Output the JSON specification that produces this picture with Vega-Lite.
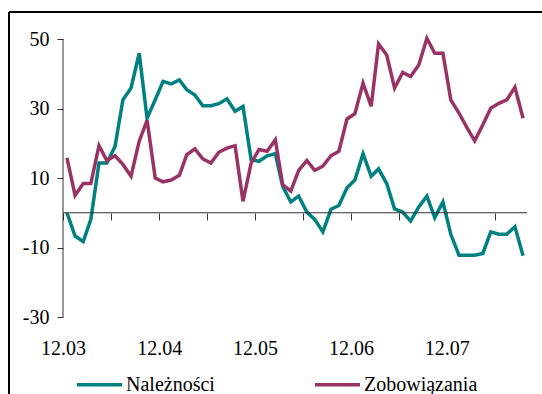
{
  "$schema": "https://vega.github.io/schema/vega-lite/v6.json",
  "width": 464,
  "height": 278,
  "autosize": {"type": "none"},
  "padding": {"left": 63, "top": 39, "right": 15, "bottom": 77},
  "background": "white",
  "config": {"view": {"stroke": null}, "font": "Liberation Serif, Times New Roman, Times, serif"},
  "layer": [
    {
      "data": {
        "values": [
          {"date": "2003-12-01", "Należności": 0, "Zobowiązania": 15.8},
          {"date": "2004-01-01", "Należności": -6.7, "Zobowiązania": 5.0},
          {"date": "2004-02-01", "Należności": -8.3, "Zobowiązania": 8.4},
          {"date": "2004-03-01", "Należności": -1.9, "Zobowiązania": 8.4},
          {"date": "2004-04-01", "Należności": 14.3, "Zobowiązania": 19.3},
          {"date": "2004-05-01", "Należności": 14.3, "Zobowiązania": 15.0},
          {"date": "2004-06-01", "Należności": 19.1, "Zobowiązania": 16.4},
          {"date": "2004-07-01", "Należności": 32.5, "Zobowiązania": 13.9},
          {"date": "2004-08-01", "Należności": 35.9, "Zobowiązania": 10.5},
          {"date": "2004-09-01", "Należności": 45.9, "Zobowiązania": 20.6},
          {"date": "2004-10-01", "Należności": 27.2, "Zobowiązania": 26.6},
          {"date": "2004-11-01", "Należności": 32.5, "Zobowiązania": 10.0},
          {"date": "2004-12-01", "Należności": 37.8, "Zobowiązania": 8.9},
          {"date": "2005-01-01", "Należności": 37.1, "Zobowiązania": 9.4},
          {"date": "2005-02-01", "Należności": 38.2, "Zobowiązania": 10.8},
          {"date": "2005-03-01", "Należności": 35.4, "Zobowiązania": 16.7},
          {"date": "2005-04-01", "Należności": 33.9, "Zobowiązania": 18.4},
          {"date": "2005-05-01", "Należności": 30.8, "Zobowiązania": 15.5},
          {"date": "2005-06-01", "Należności": 30.8, "Zobowiązania": 14.3},
          {"date": "2005-07-01", "Należności": 31.4, "Zobowiązania": 17.4},
          {"date": "2005-08-01", "Należności": 32.8, "Zobowiązania": 18.6},
          {"date": "2005-09-01", "Należności": 29.2, "Zobowiązania": 19.3},
          {"date": "2005-10-01", "Należności": 30.6, "Zobowiązania": 3.3},
          {"date": "2005-11-01", "Należności": 15.3, "Zobowiązania": 14.3},
          {"date": "2005-12-01", "Należności": 14.8, "Zobowiązania": 18.2},
          {"date": "2006-01-01", "Należności": 16.4, "Zobowiązania": 17.7},
          {"date": "2006-02-01", "Należności": 17.0, "Zobowiązania": 21.0},
          {"date": "2006-03-01", "Należności": 7.6, "Zobowiązania": 8.1},
          {"date": "2006-04-01", "Należności": 3.1, "Zobowiązania": 6.2},
          {"date": "2006-05-01", "Należności": 4.8, "Zobowiązania": 12.2},
          {"date": "2006-06-01", "Należności": 0.2, "Zobowiązania": 15.0},
          {"date": "2006-07-01", "Należności": -1.9, "Zobowiązania": 12.2},
          {"date": "2006-08-01", "Należności": -5.5, "Zobowiązania": 13.4},
          {"date": "2006-09-01", "Należności": 1.0, "Zobowiązania": 16.4},
          {"date": "2006-10-01", "Należności": 2.1, "Zobowiązania": 17.7},
          {"date": "2006-11-01", "Należności": 7.2, "Zobowiązania": 27.0},
          {"date": "2006-12-01", "Należności": 9.4, "Zobowiązania": 28.5},
          {"date": "2007-01-01", "Należności": 17.0, "Zobowiązania": 37.3},
          {"date": "2007-02-01", "Należności": 10.5, "Zobowiązania": 30.6},
          {"date": "2007-03-01", "Należności": 12.6, "Zobowiązania": 48.6},
          {"date": "2007-04-01", "Należności": 8.4, "Zobowiązania": 45.4},
          {"date": "2007-05-01", "Należności": 1.1, "Zobowiązania": 35.9},
          {"date": "2007-06-01", "Należności": 0.2, "Zobowiązania": 40.4},
          {"date": "2007-07-01", "Należności": -2.4, "Zobowiązania": 39.2},
          {"date": "2007-08-01", "Należności": 1.7, "Zobowiązania": 42.5},
          {"date": "2007-09-01", "Należności": 4.8, "Zobowiązania": 50.2},
          {"date": "2007-10-01", "Należności": -1.4, "Zobowiązania": 45.9},
          {"date": "2007-11-01", "Należności": 3.1, "Zobowiązania": 45.9},
          {"date": "2007-12-01", "Należności": -6.2, "Zobowiązania": 32.5},
          {"date": "2008-01-01", "Należności": -12.2, "Zobowiązania": 28.7},
          {"date": "2008-02-01", "Należności": -12.2, "Zobowiązania": 24.4},
          {"date": "2008-03-01", "Należności": -12.2, "Zobowiązania": 20.7},
          {"date": "2008-04-01", "Należności": -11.7, "Zobowiązania": 25.3},
          {"date": "2008-05-01", "Należności": -5.5, "Zobowiązania": 30.1},
          {"date": "2008-06-01", "Należności": -6.2, "Zobowiązania": 31.5},
          {"date": "2008-07-01", "Należności": -6.2, "Zobowiązania": 32.5},
          {"date": "2008-08-01", "Należności": -4.0, "Zobowiązania": 36.1},
          {"date": "2008-09-01", "Należności": -12.4, "Zobowiązania": 27.2}
        ]
      },
      "transform": [{"fold": ["Należności", "Zobowiązania"], "as": ["series", "value"]}],
      "mark": {"type": "line", "strokeWidth": 3.5, "clip": false},
      "encoding": {
        "x": {
          "field": "date",
          "type": "temporal",
          "scale": {"type": "utc", "domain": [{"year": 2003, "month": 11, "date": 16, "utc": true}, {"year": 2008, "month": 9, "date": 16, "utc": true}]},
          "axis": {
            "orient": "bottom",
            "offset": -104,
            "values": [
              {"year": 2003, "month": 11, "date": 16, "utc": true},
              {"year": 2004, "month": 5, "date": 16, "utc": true},
              {"year": 2004, "month": 11, "date": 16, "utc": true},
              {"year": 2005, "month": 5, "date": 16, "utc": true},
              {"year": 2005, "month": 11, "date": 16, "utc": true},
              {"year": 2006, "month": 5, "date": 16, "utc": true},
              {"year": 2006, "month": 11, "date": 16, "utc": true},
              {"year": 2007, "month": 5, "date": 16, "utc": true},
              {"year": 2007, "month": 11, "date": 16, "utc": true},
              {"year": 2008, "month": 5, "date": 16, "utc": true}
            ],
            "domain": false,
            "grid": false,
            "ticks": true,
            "tickSize": 7,
            "tickWidth": 1,
            "tickColor": "#333333",
            "labelExpr": "utcmonth(datum.value) == 10 ? utcFormat(datum.value + 1296000000, '%m.%y') : ''",
            "labelPadding": 118,
            "labelDx": 4,
            "labelAlign": "center",
            "labelFlush": false,
            "labelOverlap": false,
            "labelFont": "Liberation Serif, Times New Roman, Times, serif",
            "labelFontSize": 20,
            "labelColor": "black",
            "title": null
          }
        },
        "y": {
          "field": "value",
          "type": "quantitative",
          "scale": {"domain": [-30, 50], "nice": false, "zero": false},
          "axis": {
            "orient": "left",
            "values": [-30, -10, 10, 30, 50],
            "domain": false,
            "grid": false,
            "tickSize": 6,
            "tickWidth": 1,
            "tickColor": "#333333",
            "labelExpr": "datum.value < 0 ? '-' + abs(datum.value) : '' + datum.value",
            "labelPadding": 8,
            "labelFont": "Liberation Serif, Times New Roman, Times, serif",
            "labelFontSize": 20,
            "labelColor": "black",
            "title": null
          }
        },
        "color": {
          "field": "series",
          "type": "nominal",
          "scale": {"domain": ["Należności", "Zobowiązania"], "range": ["#008080", "#993366"]},
          "legend": {
            "orient": "none",
            "legendX": 12,
            "legendY": 321,
            "direction": "horizontal",
            "title": null,
            "padding": 0,
            "symbolType": "stroke",
            "symbolSize": 2025,
            "symbolStrokeWidth": 3.5,
            "labelFont": "Liberation Serif, Times New Roman, Times, serif",
            "labelFontSize": 20,
            "labelColor": "black",
            "labelOffset": 2,
            "columnPadding": 93
          }
        }
      }
    },
    {
      "data": {"values": [{}]},
      "mark": {"type": "rule", "color": "black", "strokeWidth": 2, "clip": false},
      "encoding": {
        "x": {"datum": {"year": 2003, "month": 4, "date": 24, "hours": 12, "utc": true}, "type": "temporal"},
        "y": {"datum": -52.16, "type": "quantitative"},
        "y2": {"datum": 57.77}
      }
    },
    {
      "data": {"values": [{}]},
      "mark": {"type": "rule", "color": "black", "strokeWidth": 2, "clip": false},
      "encoding": {
        "x": {"datum": {"year": 2003, "month": 4, "date": 24, "hours": 12, "utc": true}, "type": "temporal"},
        "x2": {"datum": {"year": 2008, "month": 11, "date": 12, "utc": true}},
        "y": {"datum": 57.77, "type": "quantitative"}
      }
    },
    {
      "data": {"values": [{}]},
      "mark": {"type": "rule", "color": "#333333", "strokeWidth": 1},
      "encoding": {
        "x": {"datum": {"year": 2003, "month": 11, "date": 16, "utc": true}, "type": "temporal"},
        "x2": {"datum": {"year": 2008, "month": 9, "date": 16, "utc": true}},
        "y": {"datum": 0, "type": "quantitative"}
      }
    },
    {
      "data": {"values": [{}]},
      "mark": {"type": "rule", "color": "#333333", "strokeWidth": 1},
      "encoding": {
        "x": {"datum": {"year": 2003, "month": 11, "date": 16, "utc": true}, "type": "temporal"},
        "y": {"datum": -30, "type": "quantitative"},
        "y2": {"datum": 50}
      }
    }
  ]
}
